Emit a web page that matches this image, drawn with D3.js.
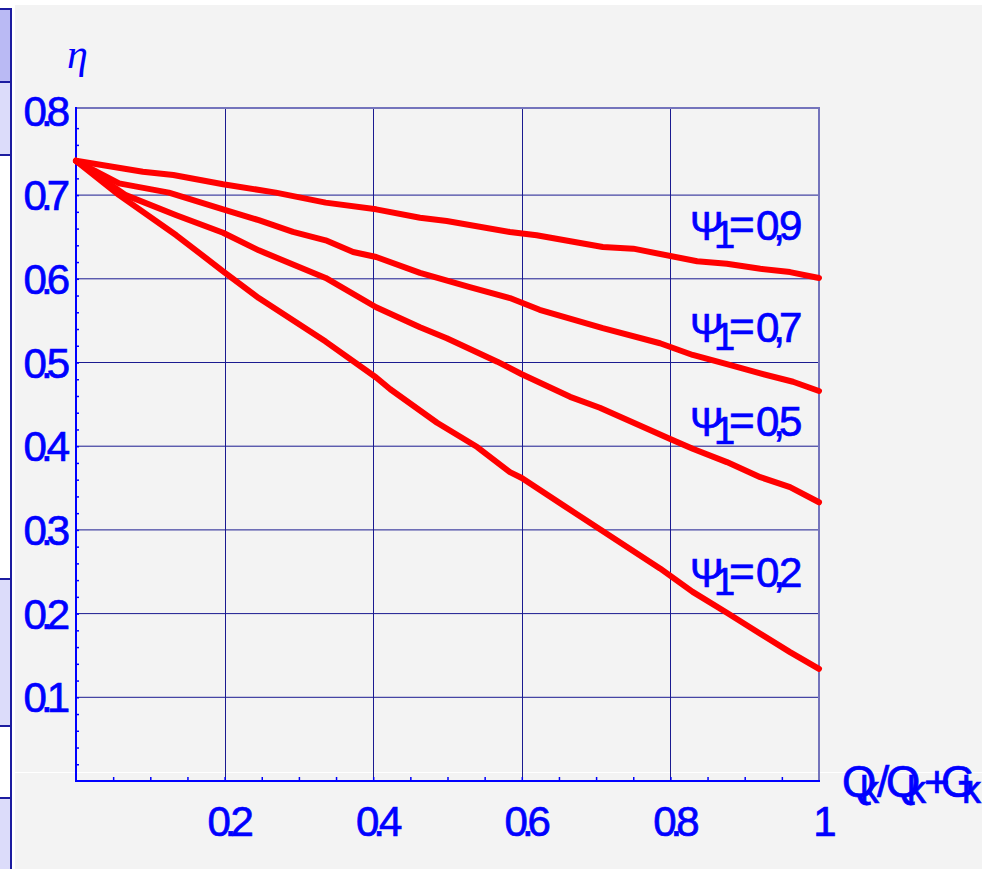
<!DOCTYPE html>
<html>
<head>
<meta charset="utf-8">
<script src="https://cdn.jsdelivr.net/npm/d3@7"></script>
<style>
  html, body { margin: 0; padding: 0; background: #ffffff; }
  svg { display: block; }
</style>
</head>
<body>
<div id="chart"></div>
<script>
// curves: [Qk/(Qk+Gk), eta]
var psi09 = [[0,0.741],[0.090,0.728],[0.131,0.724],[0.198,0.713],[0.269,0.703],[0.336,0.691],[0.404,0.683],
  [0.463,0.673],[0.499,0.669],[0.584,0.656],[0.620,0.652],[0.709,0.638],[0.750,0.636],[0.836,0.621],
  [0.876,0.618],[0.921,0.612],[0.961,0.608],[1,0.601]];
var psi07 = [[0,0.741],[0.058,0.714],[0.125,0.703],[0.198,0.683],[0.246,0.670],[0.292,0.656],[0.336,0.646],
  [0.373,0.632],[0.404,0.626],[0.463,0.607],[0.530,0.590],[0.584,0.577],[0.624,0.563],[0.709,0.541],
  [0.786,0.523],[0.830,0.509],[0.876,0.498],[0.921,0.487],[0.965,0.477],[1,0.466]];
var psi05 = [[0,0.741],[0.067,0.700],[0.135,0.676],[0.198,0.655],[0.246,0.634],[0.336,0.601],[0.404,0.566],
  [0.463,0.542],[0.499,0.529],[0.567,0.501],[0.600,0.486],[0.665,0.459],[0.705,0.446],[0.799,0.409],
  [0.830,0.397],[0.876,0.381],[0.921,0.363],[0.961,0.351],[1,0.333]];
var psi02 = [[0,0.741],[0.058,0.700],[0.135,0.652],[0.198,0.609],[0.246,0.577],[0.336,0.525],[0.404,0.482],
  [0.423,0.468],[0.486,0.428],[0.540,0.399],[0.584,0.369],[0.600,0.362],[0.665,0.324],[0.786,0.254],
  [0.830,0.226],[0.876,0.201],[0.921,0.176],[0.961,0.154],[1,0.134]];

var seriesLabels = ["0,9", "0,7", "0,5", "0,2"];
var xTicks = [0.2, 0.4, 0.6, 0.8, 1];
var xTickLabels = ["0.2", "0.4", "0.6", "0.8", "1"];
var yTicks = [0.1, 0.2, 0.3, 0.4, 0.5, 0.6, 0.7, 0.8];
var yTickLabels = ["0.1", "0.2", "0.3", "0.4", "0.5", "0.6", "0.7", "0.8"];

var W = 992, H = 869;
var svg = d3.select("#chart").append("svg")
  .attr("width", W).attr("height", H);

// page background / window bits
svg.append("rect").attr("x", 0).attr("y", 0).attr("width", W).attr("height", H).attr("fill", "#ffffff");
svg.append("rect").attr("x", 15).attr("y", 5).attr("width", 967).attr("height", H - 5).attr("fill", "#f3f3f3");
svg.append("line").attr("x1", 15).attr("x2", 982).attr("y1", 772.5).attr("y2", 772.5)
  .attr("stroke", "#ffffff").attr("stroke-width", 1);

// left side panel pieces
var side = [[9, 82, "#babaf4"], [82, 155, "#dcdcfa"], [579, 726, "#dcdcfa"], [798, 875, "#dcdcfa"]];
svg.append("line").attr("x1", 11).attr("x2", 11).attr("y1", 9).attr("y2", H)
  .attr("stroke", "#1c1ca0").attr("stroke-width", 2);
svg.selectAll("rect.side").data(side).enter().append("rect")
  .attr("class", "side")
  .attr("x", -2).attr("width", 13)
  .attr("y", function(d) { return d[0]; })
  .attr("height", function(d) { return d[1] - d[0]; })
  .attr("fill", function(d) { return d[2]; })
  .attr("stroke", "#1c1ca0").attr("stroke-width", 2);

// scales
var x = d3.scaleLinear().domain([0, 1]).range([76, 819]);
var y = d3.scaleLinear().domain([0, 0.8]).range([781, 111.4]);
var yTop = 108;

// grid
var g = svg.append("g");
g.selectAll("line.vg").data(xTicks.slice(0, 4)).enter().append("line")
  .attr("x1", function(d) { return Math.round(x(d)) + 0.5; })
  .attr("x2", function(d) { return Math.round(x(d)) + 0.5; })
  .attr("y1", yTop).attr("y2", y(0))
  .attr("stroke", "#1a1a90").attr("stroke-width", 1);
g.selectAll("line.hg").data(yTicks.slice(0, 7)).enter().append("line")
  .attr("x1", x(0)).attr("x2", x(1))
  .attr("y1", function(d) { return y(d); })
  .attr("y2", function(d) { return y(d); })
  .attr("stroke", "#1a1a90").attr("stroke-width", 1);

// frame top / right
g.append("path")
  .attr("d", "M" + x(0) + "," + yTop + "H" + x(1) + "V" + y(0))
  .attr("fill", "none").attr("stroke", "#7474bc").attr("stroke-width", 2);

// axes
var xAxis = d3.axisBottom(x).tickValues(d3.range(0.05, 1.0, 0.05)).tickSize(-4).tickFormat("");
var yAxis = d3.axisLeft(y).tickValues(d3.range(0.02, 0.8, 0.02)).tickSize(-3).tickFormat("");
var gx = svg.append("g").attr("transform", "translate(0," + y(0) + ")").call(xAxis);
var gy = svg.append("g").attr("transform", "translate(" + x(0) + ",0)").call(yAxis);
[gx, gy].forEach(function(a) {
  a.select(".domain").remove();
  a.selectAll("line").attr("stroke", "#0000ff").attr("stroke-width", 1.5);
});
svg.append("line").attr("x1", x(0)).attr("x2", x(1) + 1).attr("y1", y(0)).attr("y2", y(0))
  .attr("stroke", "#0000ff").attr("stroke-width", 2);
svg.append("line").attr("x1", x(0)).attr("x2", x(0)).attr("y1", yTop - 1).attr("y2", y(0) + 1)
  .attr("stroke", "#0000ff").attr("stroke-width", 2);

// tick labels
var tickFont = "'Liberation Sans', Arial, sans-serif";
function heavy(sel) {
  return sel.attr("fill", "#0000ff").attr("stroke", "#0000ff").attr("stroke-width", 0.7);
}
heavy(svg.selectAll("text.xl").data(xTicks).enter().append("text")
  .attr("x", function(d) { return x(d) + 3; })
  .attr("y", 836)
  .attr("text-anchor", "middle")
  .attr("font-family", tickFont).attr("font-size", 42)
  .attr("letter-spacing", "-6px")
  .text(function(d, i) { return xTickLabels[i]; }));
heavy(svg.selectAll("text.yl").data(yTicks).enter().append("text")
  .attr("x", 64)
  .attr("y", function(d) { return y(d) + 15; })
  .attr("text-anchor", "end")
  .attr("font-family", tickFont).attr("font-size", 42)
  .attr("letter-spacing", "-6px")
  .text(function(d, i) { return yTickLabels[i]; }));

// curves
var line = d3.line()
  .x(function(d) { return x(d[0]); })
  .y(function(d) { return y(d[1]); });
svg.append("g").selectAll("path.c").data([psi09, psi07, psi05, psi02]).enter().append("path")
  .attr("d", line)
  .attr("fill", "none")
  .attr("stroke", "#ff0000")
  .attr("stroke-width", 6)
  .attr("stroke-linejoin", "round")
  .attr("stroke-linecap", "round");

// curve labels  Psi_1 = ...
var labelBase = [240, 342, 436, 587];
seriesLabels.forEach(function(s, i) {
  var t = heavy(svg.append("text")
    .attr("y", labelBase[i])
    .attr("font-family", tickFont).attr("font-size", 40));
  t.append("tspan").attr("x", 690).text("\u03A8");
  t.append("tspan").attr("x", 714).attr("dy", 8).attr("font-size", 38).text("1");
  t.append("tspan").attr("x", 729).attr("dy", -8).attr("font-size", 44).text("=");
  t.append("tspan").attr("x", 756).attr("font-size", 42).attr("letter-spacing", "-6px").text(s);
});

// axis titles
svg.append("text")
  .attr("x", 67).attr("y", 68)
  .attr("font-family", "'Liberation Serif', 'Times New Roman', serif")
  .attr("font-style", "italic").attr("font-size", 42)
  .attr("fill", "#0000ff")
  .text("\u03B7");

var xt = heavy(svg.append("text")
  .attr("y", 797)
  .attr("font-family", tickFont).attr("font-size", 44));
var parts = [["Q", 842, 0], ["k", 860, 6], ["/", 877, -6], ["Q", 886, 0], ["k", 907, 6], ["+", 924, -6], ["G", 941, 0], ["k", 962, 6]];
parts.forEach(function(p) {
  xt.append("tspan").attr("x", p[1]).attr("dy", p[2])
    .attr("font-size", p[0] === "k" ? 38 : 44)
    .text(p[0]);
});
// clip the overflow at the window edge
svg.append("rect").attr("x", 982).attr("y", 0).attr("width", 10).attr("height", H).attr("fill", "#ffffff");
</script>
</body>
</html>
